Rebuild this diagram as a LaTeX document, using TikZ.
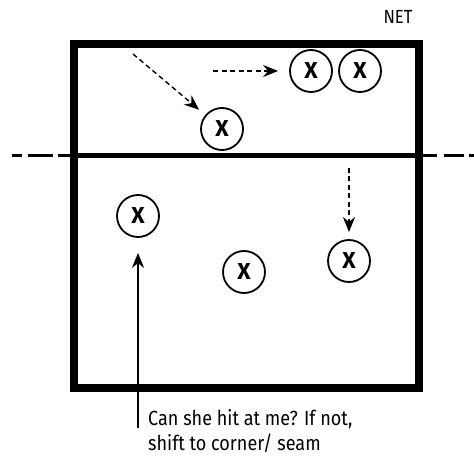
\documentclass[tikz,border=0pt]{standalone}
\usepackage{fontspec}
\setmainfont{Fira Sans}[FakeStretch=0.88]
\newfontfamily\markfont{Fira Sans}
\usetikzlibrary{arrows.meta}

\begin{document}
\begin{tikzpicture}[x=1pt,y=-1pt,
    player/.style={draw,circle,line width=1.8pt,minimum size=42pt,inner sep=0pt,
        font=\markfont\fontsize{23}{23}\selectfont\bfseries},
    run/.style={-{Stealth[length=15pt,width=12pt]},line width=1.4pt,
        dash pattern=on 5pt off 3.5pt},
    note/.style={font=\fontsize{20.5}{25}\selectfont,align=left,inner sep=0pt}]

    \useasboundingbox (0,0) rectangle (474,457);

    % the court and the net

    \draw[line width=7.5pt] (74,44) rectangle (419,388);
    \draw[line width=5pt] (74,156) -- (419,156);
    \draw[line width=3pt,dash pattern=on 10pt off 6pt on 25pt off 5pt on 12pt off 100pt]
        (12,156) -- (74,156);
    \draw[line width=3pt,dash pattern=on 18pt off 7pt on 20pt off 5pt]
        (419,156) -- (474,156);
    \node[font=\fontsize{19}{20}\selectfont] (net) at (398,17) {NET};

    % the players

    \node[player] (o1) at (222,129) {X};
    \node[player] (o2) at (311,71) {X};
    \node[player] (o3) at (360,71) {X};
    \node[player] (d1) at (138,216) {X};
    \node[player] (d2) at (244,272) {X};
    \node[player] (d3) at (349,261) {X};

    % the moves

    \coordinate (s1) at (133,54);
    \coordinate (s2) at (213,71);
    \coordinate (s3) at (349,168);
    \coordinate (s4) at (138,428);

    \draw[run,shorten >=8pt] (s1) to (o1);
    \draw[run,shorten >=11pt] (s2) to (o2);
    \draw[run,shorten >=7pt] (s3) to (d3);
    \draw[-{Stealth[length=15pt,width=12pt]},line width=1.6pt,shorten >=15pt]
        (s4) to (d1);

    \node[note,anchor=north west] (ask) at (148,409)
        {Can she hit at me? If not,\\shift to corner/ seam};
  \end{tikzpicture}
\end{document}
